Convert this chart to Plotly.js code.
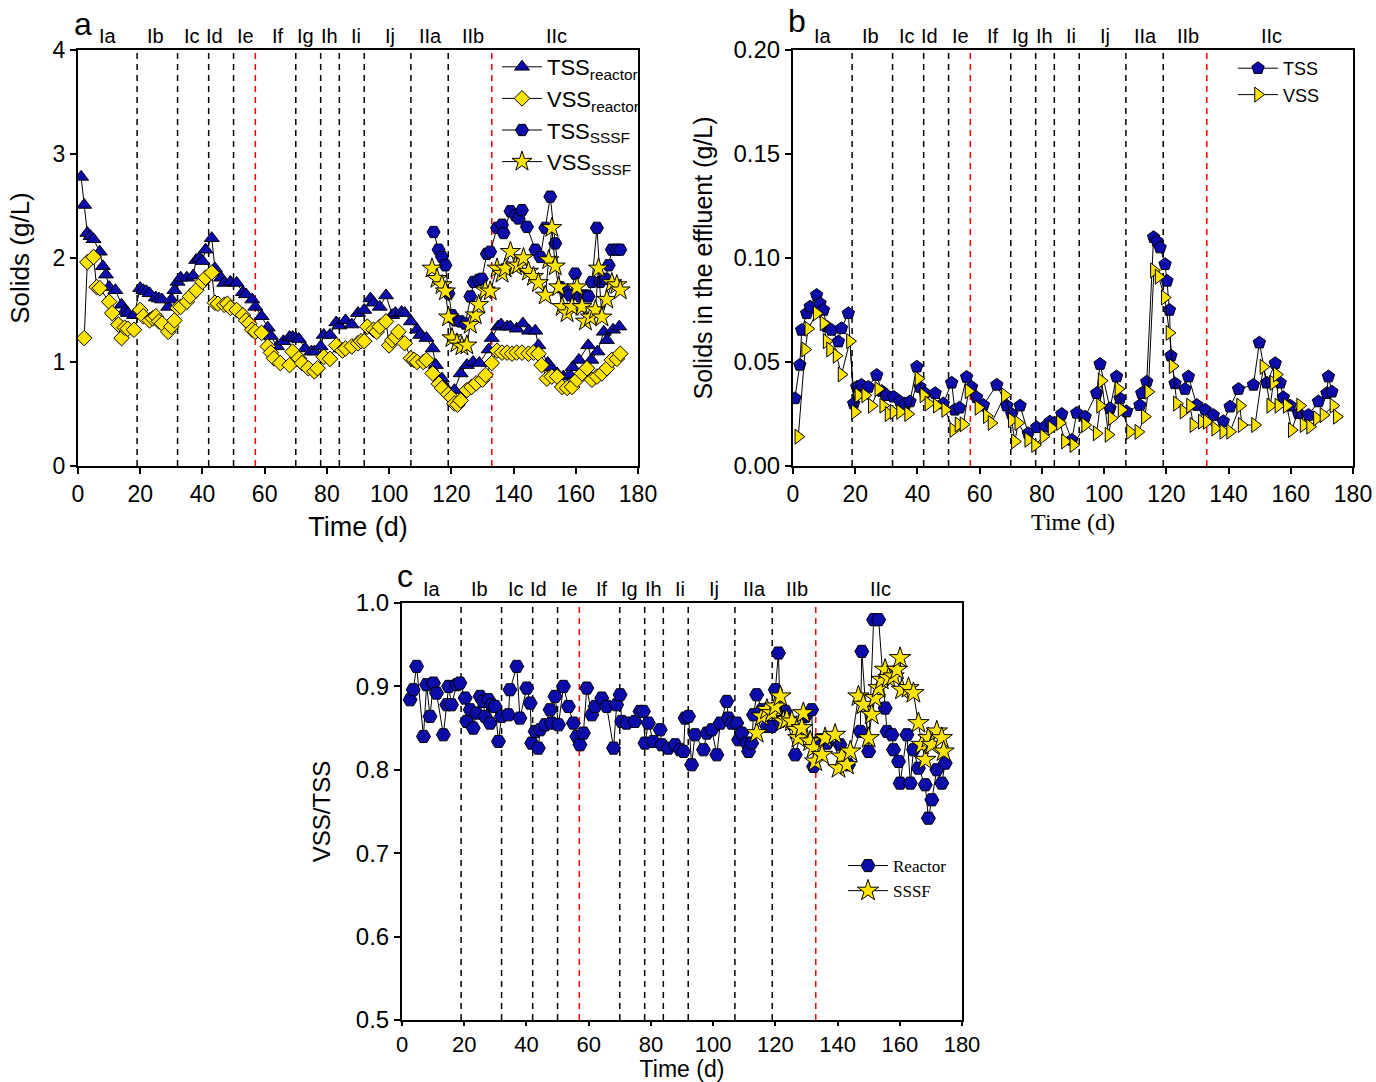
<!DOCTYPE html>
<html><head><meta charset="utf-8">
<script src="https://cdn.plot.ly/plotly-3.0.1.min.js"></script>
<style>html,body{margin:0;padding:0;background:#fff}#chart{width:1376px;height:1082px}</style>
</head><body><div id="chart"></div>
<script>
// ---------- phases ----------
const phaseBounds = [19,32,42,50,57,70,78,84,92,107,119,133];
const redBounds = [57,133];
const phaseLabels = ['Ia','Ib','Ic','Id','Ie','If','Ig','Ih','Ii','Ij','IIa','IIb','IIc'];
const phaseLabelDays = [9.7,25,36.5,44,53.7,64.3,73,80.7,89.4,100.3,113.2,126.9,153.9];

// ---------- panel a: solids in reactor / SSSF (g/L) ----------
const tssReactorDay = [1,2,3,4,5,7,8,9,10,12,14,15,16,18,20,21,22,23,25,26,27,29,30,31,32,33,35,37,38,39,40,41,43,44,46,47,49,51,53,54,56,57,59,61,62,64,66,68,69,70,71,73,75,76,78,79,81,83,84,86,88,90,92,94,95,97,99,101,102,104,105,107,109,110,112,114,115,117,118,121,123,125,127,129,132,133,135,136,138,139,141,143,145,147,148,151,152,154,156,158,159,161,164,165,167,169,170,172,174];
const tssReactor = [2.78,2.51,2.24,2.21,2.18,2.06,1.92,1.84,1.72,1.69,1.55,1.49,1.47,1.45,1.71,1.69,1.68,1.66,1.62,1.61,1.60,1.53,1.60,1.69,1.77,1.81,1.81,1.83,1.98,2.00,1.97,2.08,2.19,1.90,1.81,1.76,1.77,1.76,1.67,1.65,1.60,1.53,1.44,1.33,1.25,1.15,1.20,1.24,1.24,1.23,1.22,1.13,1.10,1.10,1.15,1.26,1.26,1.38,1.35,1.40,1.36,1.47,1.50,1.61,1.57,1.53,1.64,1.45,1.47,1.48,1.47,1.39,1.31,1.26,1.23,1.13,0.97,0.84,0.76,0.73,0.89,0.97,1.00,0.99,1.12,1.23,1.34,1.36,1.34,1.34,1.32,1.37,1.30,1.30,1.16,0.99,0.95,0.89,0.86,0.88,0.95,1.02,1.16,1.02,1.10,1.29,1.21,1.31,1.34];

const vssReactorDay = [2,3,5,6,7,10,11,13,14,15,16,18,20,21,23,24,25,26,27,29,30,31,32,33,35,36,38,40,41,43,44,45,47,48,49,51,53,54,55,56,57,59,61,62,63,65,68,69,71,72,74,76,77,79,81,83,85,86,88,90,91,92,93,95,96,97,99,100,101,102,103,105,107,108,109,111,112,114,116,117,119,120,121,122,123,125,126.5,128,130,131,133,134.7,136.3,137.9,139.5,141,142.7,144.8,146.4,148,149,150.7,152.3,154,155.6,157.2,158.8,160.4,162,163.6,165.2,166.8,168.4,170,171.6,173.2,174.3];
const vssReactor = [1.23,1.96,2.01,1.72,1.71,1.58,1.47,1.36,1.23,1.33,1.32,1.31,1.50,1.44,1.40,1.42,1.44,1.39,1.37,1.29,1.34,1.40,1.52,1.53,1.58,1.63,1.69,1.77,1.81,1.86,1.57,1.56,1.55,1.56,1.52,1.50,1.45,1.40,1.37,1.31,1.29,1.28,1.15,1.09,1.035,0.99,0.97,1.10,1.035,0.99,0.94,0.91,0.94,1.05,1.03,1.16,1.11,1.13,1.15,1.18,1.20,1.20,1.34,1.31,1.29,1.34,1.39,1.16,1.21,1.24,1.29,1.18,1.035,1.02,1.00,1.00,1.02,0.89,0.79,0.75,0.69,0.66,0.60,0.59,0.63,0.73,0.76,0.795,0.83,0.875,0.99,1.11,1.09,1.09,1.08,1.09,1.09,1.08,1.09,1.08,0.97,0.84,0.86,0.86,0.76,0.75,0.76,0.83,0.89,0.94,0.83,0.86,0.89,0.94,1.02,1.03,1.08];

const tssSssfDay = [114.3,115.9,117,118.1,119.1,120.2,121.3,122.9,124.5,126.1,127.2,128.8,129.8,131.4,132.5,134.7,136.3,136.8,139,140.6,141.6,142.7,144.3,147,148.6,150.2,151.8,153.4,155,156.6,158.2,159.8,161.4,163.1,164.1,165.2,166.8,167.9,169.5,170.6,171.6,173.2,174.3];
const tssSssf = [2.25,2.08,2.01,1.93,1.66,1.45,1.40,1.39,1.37,1.63,1.77,1.79,1.80,2.04,2.06,2.29,2.32,2.24,2.45,2.41,2.38,2.46,2.30,2.08,2.01,2.29,2.59,2.14,1.72,1.68,1.64,1.85,1.63,1.64,1.63,1.77,2.29,1.77,1.80,1.93,2.08,2.08,2.08];

const vssSssfDay = [113.8,115.4,117,118.1,119.1,120.2,121.8,123.4,125,126.1,127.7,128.8,130.9,132.5,134.7,136.3,137.3,139,140.6,141.6,143.2,144.8,146.4,148,150.2,151.3,152.3,153.4,154.5,155.6,157.2,158.8,160.4,162,163.1,164.7,166.3,167.3,168.4,170,171.6,173.2,174.3];
const vssSssf = [1.90,1.80,1.74,1.68,1.43,1.23,1.18,1.15,1.16,1.36,1.45,1.55,1.69,1.68,1.90,1.85,1.90,2.06,1.92,1.93,2.00,1.87,1.82,1.76,1.64,1.98,2.29,1.92,1.72,1.53,1.47,1.53,1.72,1.53,1.39,1.43,1.50,1.90,1.43,1.60,1.76,1.74,1.69];

// ---------- panel b: solids in the effluent (g/L) ----------
const tssEffDay = [0.6,2.2,2.8,4.4,5.5,7.6,8.7,9.8,10.8,12.4,14.6,15.6,17.8,19.5,20.5,22,24.2,26.9,28.5,30.1,32.3,34.4,36,37.6,39.8,40.8,42.4,45.7,48.3,51,52,53.5,55.8,57.4,59,61.2,65.5,68.7,70.3,73,75.6,78.3,81,82.6,84.2,86.4,89.6,91.2,93.9,97.6,98.7,101.9,104,105.1,107.2,111.5,112.1,113.7,115.9,117,118,119.6,120.2,121,121.5,122.8,126,127.1,129.8,132.5,135.1,138.3,140.5,143.2,148,149.9,152.3,155,156.6,157.6,159.8,162.5,165.7,168.9,171.6,172.1,173.2];
const tssEff = [0.0325,0.0486,0.0654,0.0734,0.0766,0.0822,0.0782,0.075,0.067,0.0654,0.0598,0.0662,0.0734,0.030,0.038,0.039,0.038,0.0437,0.036,0.034,0.0333,0.031,0.030,0.031,0.0477,0.038,0.035,0.035,0.030,0.040,0.027,0.028,0.0428,0.038,0.033,0.0293,0.039,0.029,0.025,0.029,0.0157,0.0186,0.019,0.0213,0.0206,0.025,0.0125,0.0255,0.0237,0.035,0.049,0.0277,0.043,0.0325,0.0262,0.0292,0.035,0.0405,0.110,0.108,0.105,0.097,0.089,0.075,0.053,0.0397,0.037,0.043,0.0293,0.027,0.0245,0.0215,0.0285,0.037,0.039,0.0593,0.040,0.0494,0.040,0.033,0.029,0.0253,0.0245,0.031,0.035,0.043,0.0357];

const vssEffDay = [1.7,3.9,4.9,7.6,9.8,10.8,11.9,14,15.6,18.3,19.9,21,23.2,25.3,27.4,29,30.7,32.3,34.4,37,40.3,41.9,43.5,46.2,48.9,51.5,53.2,54.8,56.4,59.6,62.3,63.8,68.1,70.3,71.3,72.4,75.6,77.8,80.5,83.1,85.8,87.4,90.1,93.9,97.6,98.7,99.2,101.4,102.4,104.6,105.6,108.3,111,113.1,114.2,116,117.5,119.5,121,122,123.4,125.5,127.6,128.7,131.4,133,135.7,138.3,140.5,143.7,144.2,148.5,151.2,153.4,154.4,155.5,156,158.7,160.3,163,164.1,166.2,168.4,170.5,173.7,174.8];
const vssEff = [0.0141,0.056,0.066,0.0734,0.0686,0.060,0.056,0.053,0.044,0.060,0.026,0.034,0.034,0.029,0.037,0.029,0.025,0.026,0.026,0.025,0.042,0.034,0.030,0.029,0.027,0.0173,0.020,0.020,0.036,0.028,0.024,0.0207,0.034,0.022,0.0118,0.0207,0.0126,0.0101,0.0142,0.0182,0.0207,0.0118,0.0101,0.0197,0.0157,0.029,0.041,0.015,0.023,0.037,0.027,0.0164,0.0164,0.0237,0.0357,0.094,0.091,0.081,0.064,0.048,0.030,0.0262,0.029,0.0197,0.0213,0.0213,0.018,0.0165,0.0165,0.029,0.0197,0.0197,0.0477,0.029,0.040,0.044,0.029,0.029,0.0173,0.029,0.0197,0.0189,0.0229,0.0245,0.029,0.0237];

// ---------- panel c: VSS/TSS ----------
const ratioReactorDay = [2.6,3.6,4.7,6.9,7.9,9.0,10.1,11.1,13.3,14.4,15.0,15.9,17.6,18.6,20.3,20.8,21.9,22.9,24.0,25.1,26.1,26.7,27.8,28.3,28.8,29.9,31.0,32.0,34.2,34.7,36.9,37.9,40.1,41.2,41.7,42.8,43.8,44.4,46.0,47.6,48.1,49.2,50.3,51.9,53.5,55.1,56.2,57.2,58.3,59.4,61.0,62.1,64.2,65.8,68.0,69.0,70.1,70.6,72.2,74.9,76.5,77.6,78.1,79.2,80.8,83.0,83.5,85.6,87.8,89.4,90.5,91.0,92.1,93.1,94.2,96.9,98.0,99.6,101.2,102.3,104.4,104.9,106.0,107.6,108.2,109.2,110.8,111.4,112.4,113.0,114.0,115.7,117.3,118.9,120.0,121.0,121.6,123.2,126.4,129.6,131.7,132.3,134.4,136.6,140.8,143.5,147.3,147.8,150.0,151.6,153.2,155.3,155.9,157.5,158.0,159.6,160.1,162.3,163.4,164.4,166.0,168.2,169.2,170.3,171.9,173.5,174.6];
const ratioReactor = [0.884,0.896,0.924,0.840,0.902,0.864,0.904,0.892,0.842,0.878,0.900,0.878,0.902,0.904,0.886,0.858,0.872,0.850,0.868,0.888,0.882,0.864,0.884,0.856,0.878,0.876,0.834,0.864,0.866,0.896,0.924,0.862,0.898,0.880,0.832,0.846,0.826,0.848,0.854,0.872,0.856,0.888,0.854,0.900,0.876,0.856,0.840,0.830,0.844,0.898,0.866,0.876,0.886,0.876,0.826,0.878,0.890,0.858,0.856,0.858,0.870,0.870,0.832,0.856,0.834,0.848,0.830,0.826,0.830,0.824,0.822,0.862,0.864,0.806,0.842,0.824,0.844,0.848,0.818,0.856,0.882,0.862,0.856,0.856,0.836,0.844,0.832,0.822,0.832,0.866,0.890,0.872,0.852,0.852,0.896,0.940,0.858,0.870,0.818,0.864,0.872,0.804,0.836,0.832,0.830,0.806,0.846,0.942,0.822,0.980,0.980,0.874,0.846,0.842,0.824,0.810,0.784,0.842,0.784,0.824,0.802,0.782,0.742,0.764,0.800,0.784,0.808];

const ratioSssfDay = [114.0,115.7,117.3,118.9,120.0,121.6,122.6,123.7,125.3,126.9,127.4,128.5,129.0,131.2,132.3,132.8,135.0,136.0,139.2,140.3,141.4,143.0,144.1,146.7,148.3,150.0,151.0,152.1,153.2,154.2,155.3,156.4,158.0,159.1,160.1,160.7,162.8,164.4,166.0,167.1,168.2,169.2,170.3,171.9,173.5,174.1];
const ratioSssf = [0.844,0.864,0.872,0.868,0.876,0.888,0.858,0.860,0.858,0.848,0.838,0.850,0.868,0.834,0.826,0.810,0.818,0.838,0.842,0.802,0.816,0.806,0.822,0.888,0.878,0.838,0.866,0.886,0.898,0.908,0.920,0.910,0.912,0.920,0.934,0.896,0.898,0.892,0.856,0.830,0.812,0.838,0.830,0.846,0.838,0.822];

// ---------- styling ----------
const BLUE = '#0c0cab';
const YELLOW = '#ffe400';
const FONT = 'Liberation Sans, Arial, sans-serif';
const SERIF = 'Liberation Serif, Times New Roman, serif';

function series(x, y, name, symbol, color, size, xa, ya, legend) {
  return {
    type: 'scatter', mode: 'lines+markers', x: x, y: y, name: name,
    xaxis: xa, yaxis: ya, legend: legend,
    line: {color: '#000', width: 1},
    marker: {symbol: symbol, color: color, size: size, line: {color: '#000', width: 1}}
  };
}

const data = [
  series(tssReactorDay, tssReactor, 'TSS<sub>reactor</sub>', 'triangle-up', BLUE, 13, 'x', 'y', 'legend'),
  series(vssReactorDay, vssReactor, 'VSS<sub>reactor</sub>', 'diamond', YELLOW, 12, 'x', 'y', 'legend'),
  series(tssSssfDay, tssSssf, 'TSS<sub>SSSF</sub>', 'hexagon2', BLUE, 13, 'x', 'y', 'legend'),
  series(vssSssfDay, vssSssf, 'VSS<sub>SSSF</sub>', 'star', YELLOW, 15, 'x', 'y', 'legend'),
  series(tssEffDay, tssEff, 'TSS', 'pentagon', BLUE, 13, 'x2', 'y2', 'legend2'),
  series(vssEffDay, vssEff, 'VSS', 'triangle-right', YELLOW, 13, 'x2', 'y2', 'legend2'),
  series(ratioReactorDay, ratioReactor, 'Reactor', 'hexagon2', BLUE, 14, 'x3', 'y3', 'legend3'),
  series(ratioSssfDay, ratioSssf, 'SSSF', 'star', YELLOW, 16, 'x3', 'y3', 'legend3')
];

const W = 1376, H = 1082;
function xd(a, b) { return [a / W, b / W]; }
function yd(top, bottom) { return [1 - bottom / H, 1 - top / H]; }

function axisBase(extra) {
  return Object.assign({
    showline: true, linecolor: '#000', linewidth: 2, mirror: true,
    ticks: 'outside', ticklen: 6, tickwidth: 2, tickcolor: '#000',
    showgrid: false, zeroline: false,
    tickfont: {family: FONT, size: 23, color: '#000'}
  }, extra);
}

const shapes = [];
const annotations = [];
const panels = [['x', 'y'], ['x2', 'y2'], ['x3', 'y3']];
panels.forEach(([xa, ya]) => {
  phaseBounds.forEach(b => {
    shapes.push({type: 'line', xref: xa, yref: ya + ' domain', x0: b, x1: b, y0: 0, y1: 1,
      line: {color: redBounds.includes(b) ? '#ff0000' : '#000', width: 1.5, dash: '6px,5px'}, layer: 'below'});
  });
  phaseLabels.forEach((t, i) => {
    annotations.push({xref: xa, yref: ya + ' domain', x: phaseLabelDays[i], y: 1, yanchor: 'middle', yshift: 14,
      text: t, showarrow: false, font: {family: FONT, size: 20, color: '#000'}});
  });
});

annotations.push({xref: 'paper', yref: 'paper', x: 72 / W, y: 1 - 24 / H, xanchor: 'left', yanchor: 'middle', text: 'a', showarrow: false, font: {family: FONT, size: 32, color: '#000'}});
annotations.push({xref: 'paper', yref: 'paper', x: 786 / W, y: 1 - 21 / H, xanchor: 'left', yanchor: 'middle', text: 'b', showarrow: false, font: {family: FONT, size: 32, color: '#000'}});
annotations.push({xref: 'paper', yref: 'paper', x: 395 / W, y: 1 - 576 / H, xanchor: 'left', yanchor: 'middle', text: 'c', showarrow: false, font: {family: FONT, size: 32, color: '#000'}});

const layout = {
  width: W, height: H,
  margin: {l: 0, r: 0, t: 0, b: 0},
  paper_bgcolor: '#fff', plot_bgcolor: '#fff',
  font: {family: FONT, color: '#000'},
  xaxis: axisBase({domain: xd(78, 638), anchor: 'y', range: [0, 180], dtick: 20,
    title: {text: 'Time (d)', font: {family: FONT, size: 27}, standoff: 12}}),
  yaxis: axisBase({domain: yd(50, 466), anchor: 'x', range: [0, 4], dtick: 1,
    title: {text: 'Solids (g/L)', font: {family: FONT, size: 26}, standoff: 16}}),
  xaxis2: axisBase({domain: xd(793, 1353), anchor: 'y2', range: [0, 180], dtick: 20,
    title: {text: 'Time (d)', font: {family: SERIF, size: 24}, standoff: 8}}),
  yaxis2: axisBase({domain: yd(50, 466), anchor: 'x2', range: [0, 0.2], dtick: 0.05, tickformat: '.2f',
    tickfont: {family: FONT, size: 24, color: '#000'},
    title: {text: 'Solids in the effluent (g/L)', font: {family: FONT, size: 25}, standoff: 14}}),
  xaxis3: axisBase({domain: xd(402, 962), anchor: 'y3', range: [0, 180], dtick: 20, ticklen: 4,
    tickfont: {family: FONT, size: 22, color: '#000'},
    title: {text: 'Time (d)', font: {family: FONT, size: 23}, standoff: 6}}),
  yaxis3: axisBase({domain: yd(603, 1020), anchor: 'x3', range: [0.5, 1.0], dtick: 0.1, tickformat: '.1f',
    tickfont: {family: FONT, size: 24, color: '#000'},
    title: {text: 'VSS/TSS', font: {family: FONT, size: 24}, standoff: 18}}),
  legend: {x: 497 / W, y: 1 - 46 / H, xanchor: 'left', yanchor: 'top', bgcolor: 'rgba(0,0,0,0)',
    font: {family: FONT, size: 22, color: '#000'}, tracegroupgap: 0, itemwidth: 40},
  legend2: {x: 1233 / W, y: 1 - 50 / H, xanchor: 'left', yanchor: 'top', bgcolor: 'rgba(0,0,0,0)',
    font: {family: FONT, size: 18, color: '#000'}, itemwidth: 40},
  legend3: {x: 843 / W, y: 1 - 848 / H, xanchor: 'left', yanchor: 'top', bgcolor: 'rgba(0,0,0,0)',
    font: {family: SERIF, size: 17, color: '#000'}, itemwidth: 40},
  shapes: shapes,
  annotations: annotations,
  showlegend: true
};

Plotly.newPlot('chart', data, layout, {displayModeBar: false, staticPlot: true});
</script>
</body></html>
